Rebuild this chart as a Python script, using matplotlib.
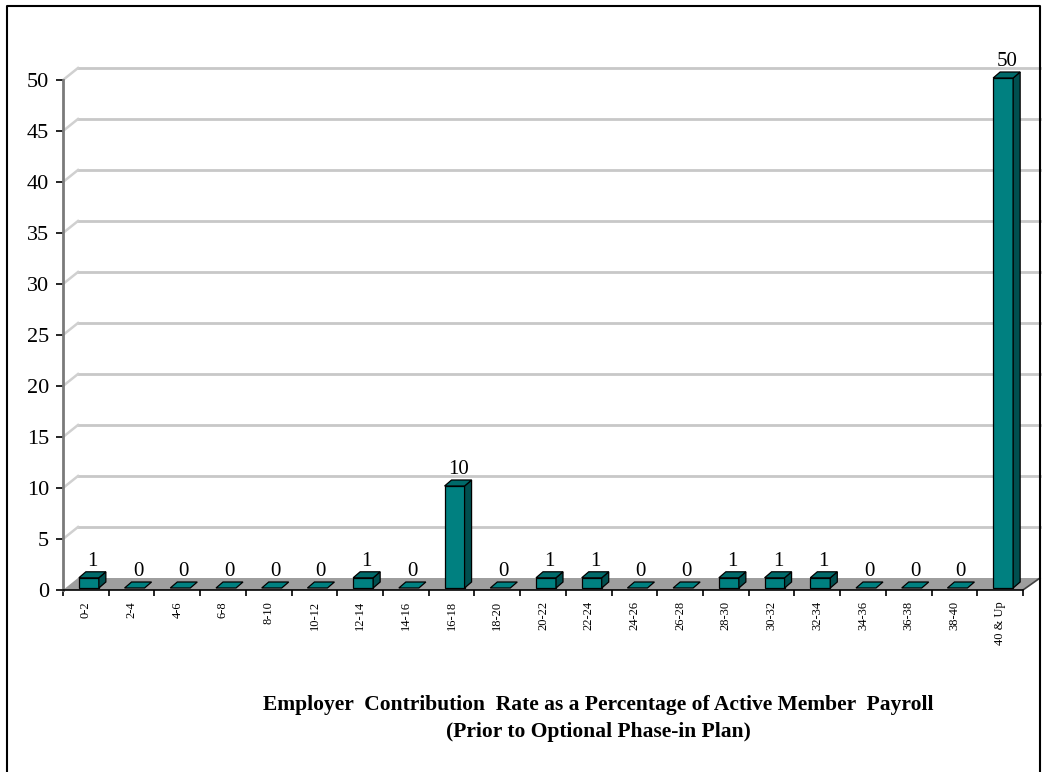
import matplotlib
matplotlib.use("Agg")
import matplotlib.pyplot as plt
from matplotlib.patches import Polygon
from matplotlib.lines import Line2D
import numpy as np

categories = ["0-2", "2-4", "4-6", "6-8", "8-10", "10-12", "12-14", "14-16",
              "16-18", "18-20", "20-22", "22-24", "24-26", "26-28", "28-30",
              "30-32", "32-34", "34-36", "36-38", "38-40", "40 & Up"]
counts = [1, 0, 0, 0, 0, 0, 1, 0, 10, 0, 1, 1, 0, 0, 1, 1, 1, 0, 0, 0, 50]
y_ticks = [0, 5, 10, 15, 20, 25, 30, 35, 40, 45, 50]
title_lines = ["Employer  Contribution  Rate as a Percentage of Active Member  Payroll",
               "(Prior to Optional Phase-in Plan)"]

SERIF = ["Liberation Serif", "DejaVu Serif"]
W_PX, H_PX = 1047, 772
fig = plt.figure(figsize=(W_PX / 100, H_PX / 100), dpi=100)

# plot area (front plane) in pixels
x0, x1 = 63, 1023
y0, y1 = 590, 80
ax = fig.add_axes([x0 / W_PX, 1 - y0 / H_PX, (x1 - x0) / W_PX, (y0 - y1) / H_PX])
n = len(categories)
ymax = 50
ax.set_xlim(0, n)
ax.set_ylim(0, ymax)

px_x = (x1 - x0) / n
px_y = (y0 - y1) / ymax
def dx(p):
    return p / px_x
def dy(p):
    return p / px_y

# depth of the chart floor / walls
DX, DY = 17, 12

# floor
floor = Polygon([(0, 0), (n, 0), (n + dx(DX), dy(DY)), (dx(DX - 2), dy(DY))],
                closed=True, facecolor="#9e9e9e", edgecolor="none",
                zorder=1, clip_on=False)
ax.add_patch(floor)
ax.add_line(Line2D([n, n + dx(DX)], [0, dy(DY)], color="#404040", lw=1.2,
                   zorder=2, clip_on=False))

# back-wall gridlines with their short diagonals on the side wall
for v in y_ticks[1:]:
    ax.add_line(Line2D([dx(DX - 2), n + dx(DX)], [v + dy(DY), v + dy(DY)],
                       color="#c8c8c8", lw=2.0, zorder=0.5, clip_on=False))
    ax.add_line(Line2D([0, dx(DX - 2)], [v, v + dy(DY)],
                       color="#d0d0d0", lw=1.8, zorder=0.5, clip_on=False))

# 3-D style columns
FACE = "#008080"
SIDE = "#004f4f"
TOP = "#006a6a"
bw = 20          # front face width, px
ox, oy = 3, 2    # front face offset from front plane, px
bdx, bdy = 7, 6  # column depth, px
for i, v in enumerate(counts):
    left = i + 0.5 - dx(bw / 2) + dx(ox)
    right = left + dx(bw)
    base = dy(oy)
    top = v + base
    if v > 0:
        ax.add_patch(Polygon([(left, base), (right, base), (right, top), (left, top)],
                             closed=True, facecolor=FACE, edgecolor="black",
                             lw=0.9, zorder=3, clip_on=False))
        ax.add_patch(Polygon([(right, base), (right + dx(bdx), base + dy(bdy)),
                              (right + dx(bdx), top + dy(bdy)), (right, top)],
                             closed=True, facecolor=SIDE, edgecolor="black",
                             lw=0.9, zorder=3, clip_on=False))
    ax.add_patch(Polygon([(left, top), (right, top),
                          (right + dx(bdx), top + dy(bdy)), (left + dx(bdx), top + dy(bdy))],
                         closed=True, facecolor=TOP if v > 0 else FACE,
                         edgecolor="black", lw=0.9, zorder=3.5, clip_on=False))
    cx = (left + right + dx(bdx)) / 2
    ax.text(cx, top + dy(bdy) + dy(1), str(v), ha="center", va="bottom",
            fontsize=15, family=SERIF, color="black", zorder=5, clip_on=False)

# axes
for s in ["top", "right"]:
    ax.spines[s].set_visible(False)
ax.spines["left"].set_color("#7a7a7a")
ax.spines["left"].set_linewidth(2)
ax.spines["bottom"].set_color("black")
ax.spines["bottom"].set_linewidth(1.2)
ax.spines["left"].set_zorder(4)
ax.spines["bottom"].set_zorder(4)
ax.patch.set_visible(False)

ax.set_yticks(y_ticks)
ax.set_yticklabels([str(t) for t in y_ticks], fontsize=16, family=SERIF)
ax.tick_params(axis="y", direction="out", length=5, width=1.2, color="black", pad=5)

ax.set_xticks(np.arange(n) + 0.5)
ax.set_xticklabels(categories, rotation=90, fontsize=9, family=SERIF)
ax.tick_params(axis="x", which="major", length=0, pad=8)
ax.set_xticks(np.arange(n + 1), minor=True)
ax.tick_params(axis="x", which="minor", direction="out", length=4, width=1.2, color="black")

# title below the chart
fig.text(598 / W_PX, 1 - 705 / H_PX, title_lines[0], ha="center", va="center",
         fontsize=15.5, fontweight="bold", family=SERIF)
fig.text(598 / W_PX, 1 - 732 / H_PX, title_lines[1], ha="center", va="center",
         fontsize=15.5, fontweight="bold", family=SERIF)

# outer frame
fig.add_artist(Line2D([7 / W_PX, 7 / W_PX, 1040 / W_PX, 1040 / W_PX],
                      [-0.01, 1 - 6 / H_PX, 1 - 6 / H_PX, -0.01],
                      transform=fig.transFigure, color="black", lw=1.5))

fig.savefig("out.png", dpi=100, facecolor="white")
